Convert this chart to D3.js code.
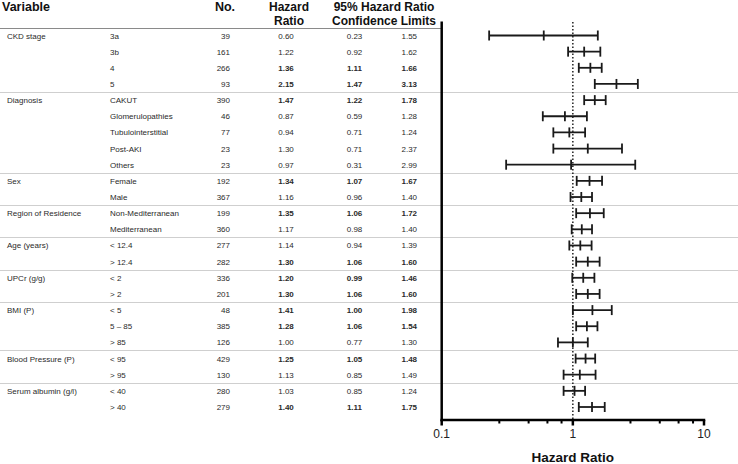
<!DOCTYPE html>
<html><head><meta charset="utf-8">
<script src="https://cdn.jsdelivr.net/npm/d3@7"></script>
<style>
html,body{margin:0;padding:0;background:#fff;}
svg{display:block;font-family:"Liberation Sans",Arial,sans-serif;}
</style></head>
<body>
<svg id="chart" width="738" height="464"></svg>
<script>
const groups = ["CKD stage","Diagnosis","Sex","Region of Residence","Age (years)","UPCr (g/g)","BMI (P)","Blood Pressure (P)","Serum albumin (g/l)"];
const groupSizes = [4,5,2,2,2,2,3,2,2];
const subgroups = ["3a","3b","4","5","CAKUT","Glomerulopathies","Tubulointerstitial","Post-AKI","Others","Female","Male","Non-Mediterranean","Mediterranean","< 12.4","> 12.4","< 2","> 2","< 5","5 – 85","> 85","< 95","> 95","< 40","> 40"];
const counts = [39,161,266,93,390,46,77,23,23,192,367,199,360,277,282,336,201,48,385,126,429,130,280,279];
const hazard = [0.60,1.22,1.36,2.15,1.47,0.87,0.94,1.30,0.97,1.34,1.16,1.35,1.17,1.14,1.30,1.20,1.30,1.41,1.28,1.00,1.25,1.13,1.03,1.40];
const lower = [0.23,0.92,1.11,1.47,1.22,0.59,0.71,0.71,0.31,1.07,0.96,1.06,0.98,0.94,1.06,0.99,1.06,1.00,1.06,0.77,1.05,0.85,0.85,1.11];
const upper = [1.55,1.62,1.66,3.13,1.78,1.28,1.24,2.37,2.99,1.67,1.40,1.72,1.40,1.39,1.60,1.46,1.60,1.98,1.54,1.30,1.48,1.49,1.24,1.75];
const significant = [false,false,true,true,true,false,false,false,false,true,false,true,false,false,true,true,true,true,true,false,true,false,false,true];
const majorTicks = [0.1,1,10];
const minorTicks = [0.275,0.46,0.64,0.82,2.75,4.6,6.4,8.25];
const refValue = 1;

const svg = d3.select("#chart");
const W = 738;
const x = d3.scaleLog().domain([0.1,10]).range([441.7,704]);
const y = d3.scaleLinear().domain([0,subgroups.length-1]).range([35.5,407]);
const fmt = d3.format(".2f");
const rows = subgroups.map((s,i)=>({i,s,n:counts[i],hr:hazard[i],lo:lower[i],hi:upper[i],b:significant[i]}));

let starts=[]; let acc=0;
groupSizes.forEach(g=>{starts.push(acc); acc+=g;});

svg.append("g").selectAll("line").data(starts.slice(1)).join("line")
  .attr("x1",0).attr("x2",W)
  .attr("y1",d=>Math.round(y(d-0.5))+0.5).attr("y2",d=>Math.round(y(d-0.5))+0.5)
  .attr("stroke","#cfcfcf").attr("stroke-width",1);

svg.append("line").attr("x1",0).attr("x2",x(0.1)).attr("y1",28.5).attr("y2",28.5)
  .attr("stroke","#8a8a8a").attr("stroke-width",1);

const hdr = svg.append("g").attr("font-weight","bold").attr("font-size",12).attr("fill","#111");
hdr.append("text").attr("x",2).attr("y",11).attr("font-size",12.5).text("Variable");
hdr.append("text").attr("x",225).attr("y",11).attr("text-anchor","middle").attr("font-size",12.5).text("No.");
hdr.append("text").attr("x",289).attr("y",11).attr("text-anchor","middle").text("Hazard");
hdr.append("text").attr("x",289).attr("y",24.5).attr("text-anchor","middle").text("Ratio");
hdr.append("text").attr("x",384).attr("y",11).attr("text-anchor","middle").text("95% Hazard Ratio");
hdr.append("text").attr("x",384).attr("y",24.5).attr("text-anchor","middle").text("Confidence Limits");

const body = svg.append("g").attr("font-size",8).attr("fill","#2a2a2a");
body.selectAll("text.grp").data(groups).join("text").attr("class","grp")
  .attr("x",7).attr("y",(d,k)=>y(starts[k])+3).text(d=>d);
body.selectAll("text.sub").data(rows).join("text").attr("class","sub")
  .attr("x",110).attr("y",d=>y(d.i)+3).text(d=>d.s);
body.selectAll("text.n").data(rows).join("text").attr("class","n")
  .attr("x",230).attr("y",d=>y(d.i)+3).attr("text-anchor","end").text(d=>d.n);
const cols = [["hr",286],["lo",354.5],["hi",409.3]];
cols.forEach(([k,cx])=>{
  body.selectAll("text."+k).data(rows).join("text").attr("class",k)
    .attr("x",cx).attr("y",d=>y(d.i)+3).attr("text-anchor","middle")
    .attr("font-weight",d=>d.b?"bold":"normal").text(d=>fmt(d[k]));
});

svg.append("line").attr("x1",x(refValue)).attr("x2",x(refValue)).attr("y1",22).attr("y2",419)
  .attr("stroke","#111").attr("stroke-width",1.4).attr("stroke-dasharray","1.5,2");

const fp = svg.append("g").attr("stroke","#1a1a1a").attr("stroke-width",1.8);
const cap = 5;
fp.selectAll("line.ci").data(rows).join("line").attr("class","ci")
  .attr("x1",d=>x(d.lo)).attr("x2",d=>x(d.hi)).attr("y1",d=>y(d.i)).attr("y2",d=>y(d.i));
["lo","hi","hr"].forEach(k=>{
  fp.selectAll("line.c"+k).data(rows).join("line").attr("class","c"+k)
    .attr("x1",d=>x(d[k])).attr("x2",d=>x(d[k]))
    .attr("y1",d=>y(d.i)-cap).attr("y2",d=>y(d.i)+cap);
});

const axisY = 420;
const ax = svg.append("g").attr("stroke","#000");
ax.append("line").attr("x1",x(0.1)).attr("x2",x(0.1)).attr("y1",21.5).attr("y2",axisY+1.25).attr("stroke-width",2.5);
ax.append("line").attr("x1",x(0.1)-1.25).attr("x2",x(10)+1.25).attr("y1",axisY).attr("y2",axisY).attr("stroke-width",2.5);
ax.selectAll("line.maj").data(majorTicks).join("line").attr("class","maj")
  .attr("x1",d=>x(d)).attr("x2",d=>x(d)).attr("y1",axisY).attr("y2",axisY+5.5).attr("stroke-width",2.5);
ax.selectAll("line.min").data(minorTicks).join("line").attr("class","min")
  .attr("x1",d=>x(d)).attr("x2",d=>x(d)).attr("y1",axisY).attr("y2",axisY+3.5).attr("stroke-width",2);

svg.append("g").attr("font-size",12).attr("fill","#222").attr("text-anchor","middle")
  .selectAll("text").data(majorTicks).join("text")
  .attr("x",d=>x(d)).attr("y",437.5).text(d=>d3.format("~g")(d));

svg.append("text").attr("x",x(1)).attr("y",462).attr("text-anchor","middle")
  .attr("font-weight","bold").attr("font-size",13.5).attr("fill","#111").text("Hazard Ratio");
</script>
</body></html>
